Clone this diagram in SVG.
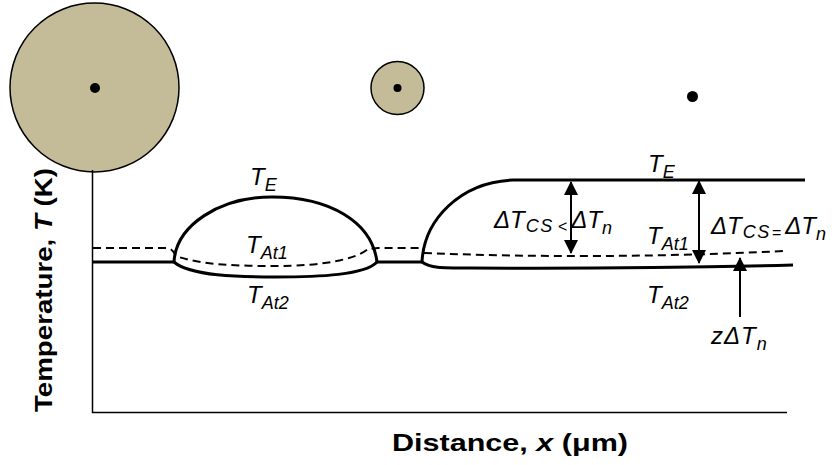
<svg xmlns="http://www.w3.org/2000/svg" width="837" height="465" viewBox="0 0 837 465">
<defs>
<marker id="ah" viewBox="0 0 14 14" refX="13" refY="7" markerWidth="14" markerHeight="14" markerUnits="userSpaceOnUse" orient="auto-start-reverse">
<path d="M0,0 L14,7 L0,14 Z" fill="#000"/>
</marker>
</defs>
<style>
.bub{fill:#C4BC98;stroke:#000;stroke-width:1.5}
.thick{fill:none;stroke:#000;stroke-width:3}
.dash{fill:none;stroke:#000;stroke-width:2;stroke-dasharray:8,5}
.axis{fill:none;stroke:#000;stroke-width:1.5}
.arr{fill:none;stroke:#000;stroke-width:2}
.lab{font-family:"Liberation Sans",Arial,sans-serif;font-style:italic;font-size:24px;fill:#000}
.sub{font-size:18px}
.ax{font-family:"Liberation Sans",Arial,sans-serif;font-weight:bold;font-size:24px;fill:#000}
</style>
<rect width="837" height="465" fill="#fff"/>
<g id="bubble-large">
<circle class="bub" cx="94.5" cy="87.5" r="84.5"/>
<circle cx="95" cy="88" r="5" fill="#000"/>
</g>
<g id="bubble-small">
<circle class="bub" cx="397.5" cy="88" r="26.5"/>
<circle cx="397.5" cy="88" r="4" fill="#000"/>
</g>
<g id="bubble-point">
<circle cx="692.5" cy="96.5" r="5.5" fill="#000"/>
</g>
<g id="axes">
<path class="axis" d="M92.5,170 L92.5,412.5 L787,412.5"/>
</g>
<g id="curves">
<path class="thick" d="M93,262 L174,262"/>
<path class="thick" d="M174,262 C176,225 220,197 272,197 C330,197 372,222 377,262"/>
<path class="thick" d="M174,262 C190,276 240,277 275,277 C320,277 365,275 377,262"/>
<path class="thick" d="M377,262 L422,262"/>
<path class="thick" d="M422,262 C424,220 460,182 513,180 L805,180"/>
<path class="thick" d="M422,262 C430,268 440,268 470,268 Q640,269 793,265"/>
<path class="dash" d="M93,248 L168,248 C172,249 174,252 176,256 C200,265 240,266 275,266 C320,266 355,260 368,249 L378,248 L420,248"/>
<path class="dash" d="M424,253 Q600,260 785,251"/>
</g>
<g id="connectors">
<path class="arr" d="M571,182 L571,253" marker-start="url(#ah)" marker-end="url(#ah)"/>
<path class="arr" d="M699,181 L699,263" marker-start="url(#ah)" marker-end="url(#ah)"/>
<path class="arr" d="M740,317 L740,258" marker-end="url(#ah)"/>
</g>
<g id="labels">
<text class="lab" x="250" y="185">T<tspan class="sub" dy="6">E</tspan></text>
<text class="lab" x="246" y="253">T<tspan class="sub" dy="6">At1</tspan></text>
<text class="lab" x="247" y="303">T<tspan class="sub" dy="6">At2</tspan></text>
<text class="lab" x="494" y="228">ΔT<tspan class="sub" dy="4" dx="1" letter-spacing="1.5">CS</tspan><tspan font-size="16" dx="4">&lt;</tspan><tspan dy="-4" dx="4">ΔT</tspan><tspan class="sub" dy="6">n</tspan></text>
<text class="lab" x="648" y="172">T<tspan class="sub" dy="6">E</tspan></text>
<text class="lab" x="711" y="234">ΔT<tspan class="sub" dy="4" dx="1" letter-spacing="1.5">CS</tspan><tspan font-size="16" dx="1">=</tspan><tspan dy="-4" dx="4">ΔT</tspan><tspan class="sub" dy="6">n</tspan></text>
<text class="lab" x="647" y="244">T<tspan class="sub" dy="6">At1</tspan></text>
<text class="lab" x="647" y="303">T<tspan class="sub" dy="6">At2</tspan></text>
<text class="lab" x="711" y="344" letter-spacing="1">zΔT<tspan class="sub" dy="6">n</tspan></text>
<text class="ax" x="0" y="0" text-anchor="middle" textLength="244" lengthAdjust="spacingAndGlyphs" transform="translate(52,290) rotate(-90)">Temperature, <tspan font-style="italic">T</tspan> (K)</text>
<text class="ax" x="510" y="451" text-anchor="middle" textLength="236" lengthAdjust="spacingAndGlyphs">Distance, <tspan font-style="italic">x</tspan> (μm)</text>
</g>
</svg>
